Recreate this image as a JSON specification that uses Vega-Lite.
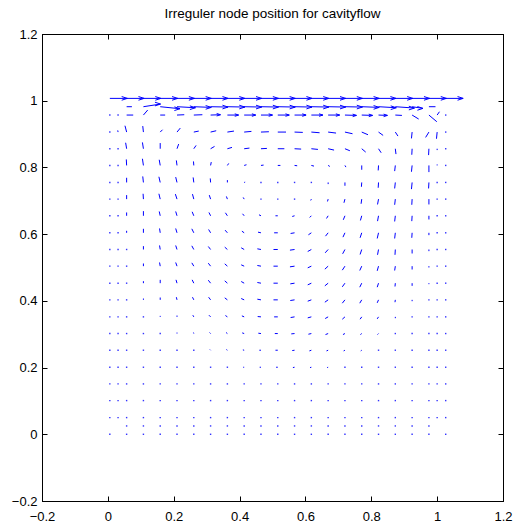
{
"$schema":"https://vega.github.io/schema/vega-lite/v6.json",
"width":461,"height":467,
"autosize":{"type":"none"},
"padding":{"left":42,"top":34,"right":29,"bottom":21},
"title":{"text":"Irreguler node position for cavityflow","font":"Liberation Sans","fontSize":13.5,"fontWeight":"normal","color":"black","anchor":"middle","offset":8},
"config":{"view":{"stroke":"black","strokeWidth":1},"axis":{"domainColor":"black","domainWidth":1,"tickColor":"black","tickWidth":1,"tickSize":-5,"labelColor":"black","labelFont":"Liberation Sans","labelFontSize":13,"grid":false,"title":null,"labelFlush":false,"labelOverlap":false}},
"datasets":{
"arrows":[
{"x":0.006,"y":1.007,"x2":0.059,"y2":1.007},{"x":0.057,"y":1.007,"x2":0.110,"y2":1.007},{"x":0.108,"y":1.007,"x2":0.161,"y2":1.007},{"x":0.159,"y":1.007,"x2":0.212,"y2":1.007},{"x":0.210,"y":1.007,"x2":0.263,"y2":1.007},{"x":0.261,"y":1.007,"x2":0.314,"y2":1.007},{"x":0.312,"y":1.007,"x2":0.365,"y2":1.007},{"x":0.363,"y":1.007,"x2":0.416,"y2":1.007},{"x":0.414,"y":1.007,"x2":0.467,"y2":1.007},{"x":0.465,"y":1.007,"x2":0.518,"y2":1.007},{"x":0.516,"y":1.007,"x2":0.569,"y2":1.007},{"x":0.567,"y":1.007,"x2":0.620,"y2":1.007},{"x":0.618,"y":1.007,"x2":0.671,"y2":1.007},{"x":0.669,"y":1.007,"x2":0.722,"y2":1.007},{"x":0.720,"y":1.007,"x2":0.773,"y2":1.007},{"x":0.771,"y":1.007,"x2":0.824,"y2":1.007},{"x":0.822,"y":1.007,"x2":0.875,"y2":1.007},{"x":0.873,"y":1.007,"x2":0.926,"y2":1.007},{"x":0.924,"y":1.007,"x2":0.977,"y2":1.007},{"x":0.975,"y":1.007,"x2":1.028,"y2":1.007},{"x":1.026,"y":1.007,"x2":1.079,"y2":1.007},
{"x":0.057,"y":0.982,"x2":0.073,"y2":0.982},{"x":0.108,"y":0.982,"x2":0.160,"y2":0.990},{"x":0.159,"y":0.982,"x2":0.219,"y2":0.976},{"x":0.210,"y":0.982,"x2":0.266,"y2":0.979},{"x":0.261,"y":0.982,"x2":0.314,"y2":0.980},{"x":0.312,"y":0.982,"x2":0.365,"y2":0.981},{"x":0.363,"y":0.982,"x2":0.416,"y2":0.981},{"x":0.414,"y":0.982,"x2":0.467,"y2":0.981},{"x":0.465,"y":0.982,"x2":0.518,"y2":0.981},{"x":0.516,"y":0.982,"x2":0.569,"y2":0.981},{"x":0.567,"y":0.982,"x2":0.620,"y2":0.981},{"x":0.618,"y":0.982,"x2":0.671,"y2":0.981},{"x":0.669,"y":0.982,"x2":0.722,"y2":0.981},{"x":0.720,"y":0.982,"x2":0.773,"y2":0.981},{"x":0.771,"y":0.982,"x2":0.824,"y2":0.980},{"x":0.822,"y":0.982,"x2":0.876,"y2":0.979},{"x":0.873,"y":0.982,"x2":0.931,"y2":0.978},{"x":0.924,"y":0.982,"x2":0.957,"y2":0.977},{"x":0.975,"y":0.982,"x2":0.995,"y2":0.982},
{"x":0.057,"y":0.957,"x2":0.077,"y2":0.957},{"x":0.108,"y":0.957,"x2":0.121,"y2":0.972},{"x":0.159,"y":0.957,"x2":0.174,"y2":0.957},{"x":0.210,"y":0.957,"x2":0.232,"y2":0.958},{"x":0.261,"y":0.957,"x2":0.287,"y2":0.958},{"x":0.312,"y":0.957,"x2":0.342,"y2":0.958},{"x":0.363,"y":0.957,"x2":0.397,"y2":0.957},{"x":0.414,"y":0.957,"x2":0.449,"y2":0.957},{"x":0.465,"y":0.957,"x2":0.500,"y2":0.957},{"x":0.516,"y":0.957,"x2":0.551,"y2":0.957},{"x":0.567,"y":0.957,"x2":0.602,"y2":0.957},{"x":0.618,"y":0.957,"x2":0.653,"y2":0.957},{"x":0.669,"y":0.957,"x2":0.704,"y2":0.957},{"x":0.720,"y":0.957,"x2":0.755,"y2":0.956},{"x":0.771,"y":0.957,"x2":0.804,"y2":0.956},{"x":0.822,"y":0.957,"x2":0.849,"y2":0.956},{"x":0.873,"y":0.957,"x2":0.893,"y2":0.956},{"x":0.924,"y":0.957,"x2":0.944,"y2":0.945},{"x":0.975,"y":0.957,"x2":0.999,"y2":0.937},{"x":1.000,"y":0.957,"x2":1.007,"y2":0.967},
{"x":0.031,"y":0.906,"x2":0.030,"y2":0.911},{"x":0.057,"y":0.906,"x2":0.052,"y2":0.925},{"x":0.108,"y":0.906,"x2":0.106,"y2":0.924},{"x":0.159,"y":0.906,"x2":0.166,"y2":0.913},{"x":0.210,"y":0.906,"x2":0.220,"y2":0.918},{"x":0.261,"y":0.906,"x2":0.276,"y2":0.909},{"x":0.312,"y":0.906,"x2":0.329,"y2":0.910},{"x":0.363,"y":0.906,"x2":0.383,"y2":0.909},{"x":0.414,"y":0.906,"x2":0.436,"y2":0.908},{"x":0.465,"y":0.906,"x2":0.489,"y2":0.907},{"x":0.516,"y":0.906,"x2":0.541,"y2":0.906},{"x":0.567,"y":0.906,"x2":0.592,"y2":0.905},{"x":0.618,"y":0.906,"x2":0.643,"y2":0.904},{"x":0.669,"y":0.906,"x2":0.693,"y2":0.903},{"x":0.720,"y":0.906,"x2":0.743,"y2":0.901},{"x":0.771,"y":0.906,"x2":0.790,"y2":0.898},{"x":0.822,"y":0.906,"x2":0.836,"y2":0.896},{"x":0.873,"y":0.906,"x2":0.881,"y2":0.894},{"x":0.924,"y":0.906,"x2":0.922,"y2":0.887},{"x":0.975,"y":0.906,"x2":0.965,"y2":0.890},{"x":1.000,"y":0.906,"x2":0.998,"y2":0.886},
{"x":0.057,"y":0.856,"x2":0.054,"y2":0.874},{"x":0.108,"y":0.856,"x2":0.105,"y2":0.875},{"x":0.159,"y":0.856,"x2":0.159,"y2":0.873},{"x":0.210,"y":0.856,"x2":0.215,"y2":0.870},{"x":0.261,"y":0.856,"x2":0.268,"y2":0.866},{"x":0.312,"y":0.856,"x2":0.324,"y2":0.863},{"x":0.363,"y":0.856,"x2":0.377,"y2":0.860},{"x":0.414,"y":0.856,"x2":0.430,"y2":0.858},{"x":0.465,"y":0.856,"x2":0.483,"y2":0.857},{"x":0.516,"y":0.856,"x2":0.536,"y2":0.856},{"x":0.567,"y":0.856,"x2":0.587,"y2":0.855},{"x":0.618,"y":0.856,"x2":0.638,"y2":0.854},{"x":0.669,"y":0.856,"x2":0.687,"y2":0.852},{"x":0.720,"y":0.856,"x2":0.735,"y2":0.850},{"x":0.771,"y":0.856,"x2":0.783,"y2":0.846},{"x":0.822,"y":0.856,"x2":0.830,"y2":0.844},{"x":0.873,"y":0.856,"x2":0.875,"y2":0.840},{"x":0.924,"y":0.856,"x2":0.923,"y2":0.838},{"x":0.975,"y":0.856,"x2":0.974,"y2":0.837},{"x":1.000,"y":0.856,"x2":1.000,"y2":0.852},
{"x":0.057,"y":0.806,"x2":0.056,"y2":0.824},{"x":0.108,"y":0.806,"x2":0.105,"y2":0.826},{"x":0.159,"y":0.806,"x2":0.156,"y2":0.823},{"x":0.210,"y":0.806,"x2":0.208,"y2":0.821},{"x":0.261,"y":0.806,"x2":0.260,"y2":0.818},{"x":0.312,"y":0.806,"x2":0.314,"y2":0.816},{"x":0.363,"y":0.806,"x2":0.367,"y2":0.812},{"x":0.414,"y":0.806,"x2":0.421,"y2":0.808},{"x":0.465,"y":0.806,"x2":0.473,"y2":0.807},{"x":0.516,"y":0.806,"x2":0.524,"y2":0.806},{"x":0.567,"y":0.806,"x2":0.575,"y2":0.805},{"x":0.618,"y":0.806,"x2":0.626,"y2":0.804},{"x":0.669,"y":0.806,"x2":0.674,"y2":0.803},{"x":0.720,"y":0.806,"x2":0.723,"y2":0.801},{"x":0.771,"y":0.806,"x2":0.771,"y2":0.793},{"x":0.822,"y":0.806,"x2":0.821,"y2":0.791},{"x":0.873,"y":0.806,"x2":0.871,"y2":0.789},{"x":0.924,"y":0.806,"x2":0.922,"y2":0.787},{"x":0.975,"y":0.806,"x2":0.975,"y2":0.786},{"x":1.000,"y":0.806,"x2":1.000,"y2":0.809},
{"x":0.057,"y":0.755,"x2":0.057,"y2":0.769},{"x":0.108,"y":0.755,"x2":0.106,"y2":0.773},{"x":0.159,"y":0.755,"x2":0.155,"y2":0.772},{"x":0.210,"y":0.755,"x2":0.206,"y2":0.771},{"x":0.261,"y":0.755,"x2":0.259,"y2":0.770},{"x":0.312,"y":0.755,"x2":0.311,"y2":0.767},{"x":0.363,"y":0.755,"x2":0.363,"y2":0.762},{"x":0.414,"y":0.755,"x2":0.417,"y2":0.756},{"x":0.669,"y":0.755,"x2":0.669,"y2":0.750},{"x":0.720,"y":0.755,"x2":0.720,"y2":0.745},{"x":0.771,"y":0.755,"x2":0.770,"y2":0.742},{"x":0.822,"y":0.755,"x2":0.821,"y2":0.739},{"x":0.873,"y":0.755,"x2":0.871,"y2":0.737},{"x":0.924,"y":0.755,"x2":0.922,"y2":0.735},{"x":0.975,"y":0.755,"x2":0.974,"y2":0.737},
{"x":0.057,"y":0.705,"x2":0.057,"y2":0.717},{"x":0.108,"y":0.705,"x2":0.107,"y2":0.721},{"x":0.159,"y":0.705,"x2":0.155,"y2":0.721},{"x":0.210,"y":0.705,"x2":0.205,"y2":0.720},{"x":0.261,"y":0.705,"x2":0.257,"y2":0.720},{"x":0.312,"y":0.705,"x2":0.308,"y2":0.717},{"x":0.363,"y":0.705,"x2":0.360,"y2":0.713},{"x":0.414,"y":0.705,"x2":0.411,"y2":0.710},{"x":0.618,"y":0.705,"x2":0.616,"y2":0.701},{"x":0.669,"y":0.705,"x2":0.667,"y2":0.698},{"x":0.720,"y":0.705,"x2":0.717,"y2":0.694},{"x":0.771,"y":0.705,"x2":0.769,"y2":0.691},{"x":0.822,"y":0.705,"x2":0.819,"y2":0.689},{"x":0.873,"y":0.705,"x2":0.871,"y2":0.688},{"x":0.924,"y":0.705,"x2":0.923,"y2":0.688},{"x":0.975,"y":0.705,"x2":0.975,"y2":0.689},
{"x":0.057,"y":0.655,"x2":0.057,"y2":0.665},{"x":0.108,"y":0.655,"x2":0.108,"y2":0.669},{"x":0.159,"y":0.655,"x2":0.156,"y2":0.668},{"x":0.210,"y":0.655,"x2":0.206,"y2":0.668},{"x":0.261,"y":0.655,"x2":0.256,"y2":0.667},{"x":0.312,"y":0.655,"x2":0.307,"y2":0.665},{"x":0.363,"y":0.655,"x2":0.357,"y2":0.664},{"x":0.414,"y":0.655,"x2":0.409,"y2":0.661},{"x":0.465,"y":0.655,"x2":0.459,"y2":0.658},{"x":0.516,"y":0.655,"x2":0.509,"y2":0.655},{"x":0.567,"y":0.655,"x2":0.560,"y2":0.653},{"x":0.618,"y":0.655,"x2":0.613,"y2":0.650},{"x":0.669,"y":0.655,"x2":0.664,"y2":0.647},{"x":0.720,"y":0.655,"x2":0.715,"y2":0.643},{"x":0.771,"y":0.655,"x2":0.767,"y2":0.641},{"x":0.822,"y":0.655,"x2":0.819,"y2":0.639},{"x":0.873,"y":0.655,"x2":0.871,"y2":0.638},{"x":0.924,"y":0.655,"x2":0.923,"y2":0.639},{"x":0.975,"y":0.655,"x2":0.975,"y2":0.644},
{"x":0.057,"y":0.604,"x2":0.057,"y2":0.610},{"x":0.108,"y":0.604,"x2":0.108,"y2":0.616},{"x":0.159,"y":0.604,"x2":0.157,"y2":0.617},{"x":0.210,"y":0.604,"x2":0.206,"y2":0.617},{"x":0.261,"y":0.604,"x2":0.255,"y2":0.616},{"x":0.312,"y":0.604,"x2":0.306,"y2":0.614},{"x":0.363,"y":0.604,"x2":0.356,"y2":0.612},{"x":0.414,"y":0.604,"x2":0.407,"y2":0.609},{"x":0.465,"y":0.604,"x2":0.456,"y2":0.606},{"x":0.516,"y":0.604,"x2":0.505,"y2":0.604},{"x":0.567,"y":0.604,"x2":0.555,"y2":0.602},{"x":0.618,"y":0.604,"x2":0.609,"y2":0.598},{"x":0.669,"y":0.604,"x2":0.661,"y2":0.594},{"x":0.720,"y":0.604,"x2":0.714,"y2":0.591},{"x":0.771,"y":0.604,"x2":0.766,"y2":0.589},{"x":0.822,"y":0.604,"x2":0.818,"y2":0.587},{"x":0.873,"y":0.604,"x2":0.871,"y2":0.587},{"x":0.924,"y":0.604,"x2":0.923,"y2":0.589},{"x":0.975,"y":0.604,"x2":0.975,"y2":0.597},
{"x":0.108,"y":0.554,"x2":0.108,"y2":0.564},{"x":0.159,"y":0.554,"x2":0.157,"y2":0.566},{"x":0.210,"y":0.554,"x2":0.206,"y2":0.566},{"x":0.261,"y":0.554,"x2":0.255,"y2":0.565},{"x":0.312,"y":0.554,"x2":0.305,"y2":0.563},{"x":0.363,"y":0.554,"x2":0.355,"y2":0.561},{"x":0.414,"y":0.554,"x2":0.405,"y2":0.559},{"x":0.465,"y":0.554,"x2":0.454,"y2":0.556},{"x":0.516,"y":0.554,"x2":0.503,"y2":0.554},{"x":0.567,"y":0.554,"x2":0.553,"y2":0.552},{"x":0.618,"y":0.554,"x2":0.607,"y2":0.548},{"x":0.669,"y":0.554,"x2":0.660,"y2":0.544},{"x":0.720,"y":0.554,"x2":0.713,"y2":0.541},{"x":0.771,"y":0.554,"x2":0.766,"y2":0.539},{"x":0.822,"y":0.554,"x2":0.819,"y2":0.538},{"x":0.873,"y":0.554,"x2":0.872,"y2":0.538},{"x":0.924,"y":0.554,"x2":0.924,"y2":0.542},{"x":0.975,"y":0.554,"x2":0.975,"y2":0.549},
{"x":0.108,"y":0.504,"x2":0.108,"y2":0.512},{"x":0.159,"y":0.504,"x2":0.157,"y2":0.515},{"x":0.210,"y":0.504,"x2":0.206,"y2":0.515},{"x":0.261,"y":0.504,"x2":0.255,"y2":0.514},{"x":0.312,"y":0.504,"x2":0.305,"y2":0.513},{"x":0.363,"y":0.504,"x2":0.355,"y2":0.511},{"x":0.414,"y":0.504,"x2":0.405,"y2":0.508},{"x":0.465,"y":0.504,"x2":0.454,"y2":0.506},{"x":0.516,"y":0.504,"x2":0.503,"y2":0.504},{"x":0.567,"y":0.504,"x2":0.553,"y2":0.502},{"x":0.618,"y":0.504,"x2":0.607,"y2":0.499},{"x":0.669,"y":0.504,"x2":0.659,"y2":0.495},{"x":0.720,"y":0.504,"x2":0.712,"y2":0.492},{"x":0.771,"y":0.504,"x2":0.765,"y2":0.491},{"x":0.822,"y":0.504,"x2":0.818,"y2":0.490},{"x":0.873,"y":0.504,"x2":0.871,"y2":0.491},{"x":0.924,"y":0.504,"x2":0.924,"y2":0.494},{"x":0.975,"y":0.504,"x2":0.975,"y2":0.500},
{"x":0.108,"y":0.453,"x2":0.108,"y2":0.459},{"x":0.159,"y":0.453,"x2":0.159,"y2":0.463},{"x":0.210,"y":0.453,"x2":0.207,"y2":0.463},{"x":0.261,"y":0.453,"x2":0.256,"y2":0.463},{"x":0.312,"y":0.453,"x2":0.305,"y2":0.462},{"x":0.363,"y":0.453,"x2":0.355,"y2":0.460},{"x":0.414,"y":0.453,"x2":0.405,"y2":0.458},{"x":0.465,"y":0.453,"x2":0.454,"y2":0.455},{"x":0.516,"y":0.453,"x2":0.503,"y2":0.453},{"x":0.567,"y":0.453,"x2":0.554,"y2":0.451},{"x":0.618,"y":0.453,"x2":0.607,"y2":0.448},{"x":0.669,"y":0.453,"x2":0.659,"y2":0.445},{"x":0.720,"y":0.453,"x2":0.712,"y2":0.442},{"x":0.771,"y":0.453,"x2":0.765,"y2":0.441},{"x":0.822,"y":0.453,"x2":0.818,"y2":0.441},{"x":0.873,"y":0.453,"x2":0.872,"y2":0.443},{"x":0.924,"y":0.453,"x2":0.924,"y2":0.445},{"x":0.975,"y":0.453,"x2":0.975,"y2":0.450},
{"x":0.108,"y":0.403,"x2":0.108,"y2":0.407},{"x":0.159,"y":0.403,"x2":0.159,"y2":0.410},{"x":0.210,"y":0.403,"x2":0.208,"y2":0.411},{"x":0.261,"y":0.403,"x2":0.257,"y2":0.411},{"x":0.312,"y":0.403,"x2":0.306,"y2":0.411},{"x":0.363,"y":0.403,"x2":0.355,"y2":0.409},{"x":0.414,"y":0.403,"x2":0.405,"y2":0.407},{"x":0.465,"y":0.403,"x2":0.454,"y2":0.405},{"x":0.516,"y":0.403,"x2":0.503,"y2":0.403},{"x":0.567,"y":0.403,"x2":0.554,"y2":0.401},{"x":0.618,"y":0.403,"x2":0.607,"y2":0.399},{"x":0.669,"y":0.403,"x2":0.659,"y2":0.396},{"x":0.720,"y":0.403,"x2":0.712,"y2":0.393},{"x":0.771,"y":0.403,"x2":0.765,"y2":0.393},{"x":0.822,"y":0.403,"x2":0.818,"y2":0.394},{"x":0.873,"y":0.403,"x2":0.872,"y2":0.396},{"x":0.924,"y":0.403,"x2":0.924,"y2":0.399},
{"x":0.159,"y":0.352,"x2":0.159,"y2":0.355},{"x":0.210,"y":0.352,"x2":0.210,"y2":0.356},{"x":0.261,"y":0.352,"x2":0.258,"y2":0.357},{"x":0.312,"y":0.352,"x2":0.307,"y2":0.357},{"x":0.363,"y":0.352,"x2":0.357,"y2":0.356},{"x":0.414,"y":0.352,"x2":0.407,"y2":0.355},{"x":0.465,"y":0.352,"x2":0.455,"y2":0.353},{"x":0.516,"y":0.352,"x2":0.505,"y2":0.352},{"x":0.567,"y":0.352,"x2":0.555,"y2":0.350},{"x":0.618,"y":0.352,"x2":0.607,"y2":0.349},{"x":0.669,"y":0.352,"x2":0.660,"y2":0.347},{"x":0.720,"y":0.352,"x2":0.712,"y2":0.345},{"x":0.771,"y":0.352,"x2":0.766,"y2":0.345},{"x":0.822,"y":0.352,"x2":0.818,"y2":0.346},{"x":0.873,"y":0.352,"x2":0.873,"y2":0.348},
{"x":0.210,"y":0.302,"x2":0.210,"y2":0.305},{"x":0.261,"y":0.302,"x2":0.260,"y2":0.305},{"x":0.312,"y":0.302,"x2":0.309,"y2":0.305},{"x":0.363,"y":0.302,"x2":0.359,"y2":0.305},{"x":0.414,"y":0.302,"x2":0.408,"y2":0.304},{"x":0.465,"y":0.302,"x2":0.457,"y2":0.303},{"x":0.516,"y":0.302,"x2":0.507,"y2":0.302},{"x":0.567,"y":0.302,"x2":0.557,"y2":0.301},{"x":0.618,"y":0.302,"x2":0.609,"y2":0.300},{"x":0.669,"y":0.302,"x2":0.661,"y2":0.299},{"x":0.720,"y":0.302,"x2":0.714,"y2":0.299},{"x":0.771,"y":0.302,"x2":0.767,"y2":0.299},{"x":0.822,"y":0.302,"x2":0.819,"y2":0.299},
{"x":0.312,"y":0.252,"x2":0.310,"y2":0.254},{"x":0.363,"y":0.252,"x2":0.360,"y2":0.254},{"x":0.414,"y":0.252,"x2":0.410,"y2":0.253},{"x":0.465,"y":0.252,"x2":0.460,"y2":0.252},{"x":0.516,"y":0.252,"x2":0.509,"y2":0.252},{"x":0.567,"y":0.252,"x2":0.560,"y2":0.251},{"x":0.618,"y":0.252,"x2":0.612,"y2":0.250},{"x":0.669,"y":0.252,"x2":0.664,"y2":0.250},{"x":0.720,"y":0.252,"x2":0.716,"y2":0.250},{"x":0.771,"y":0.252,"x2":0.768,"y2":0.250},
{"x":0.414,"y":0.201,"x2":0.411,"y2":0.201},{"x":0.465,"y":0.201,"x2":0.461,"y2":0.201},{"x":0.516,"y":0.201,"x2":0.511,"y2":0.201},{"x":0.567,"y":0.201,"x2":0.562,"y2":0.200},{"x":0.618,"y":0.201,"x2":0.614,"y2":0.200},{"x":0.669,"y":0.201,"x2":0.666,"y2":0.200}
],
"dots":[
{"x":0.006,"y":0.957},{"x":0.031,"y":0.957},{"x":1.026,"y":0.957},
{"x":0.006,"y":0.906},{"x":1.026,"y":0.906},
{"x":0.006,"y":0.856},{"x":0.031,"y":0.856},{"x":1.026,"y":0.856},
{"x":0.006,"y":0.806},{"x":0.031,"y":0.806},{"x":1.026,"y":0.806},
{"x":0.006,"y":0.755},{"x":0.031,"y":0.755},{"x":0.465,"y":0.755},{"x":0.516,"y":0.755},{"x":0.567,"y":0.755},{"x":0.618,"y":0.755},{"x":1.000,"y":0.755},{"x":1.026,"y":0.755},
{"x":0.006,"y":0.705},{"x":0.031,"y":0.705},{"x":0.465,"y":0.705},{"x":0.516,"y":0.705},{"x":0.567,"y":0.705},{"x":1.000,"y":0.705},{"x":1.026,"y":0.705},
{"x":0.006,"y":0.655},{"x":0.031,"y":0.655},{"x":1.000,"y":0.655},{"x":1.026,"y":0.655},
{"x":0.006,"y":0.604},{"x":0.031,"y":0.604},{"x":1.000,"y":0.604},{"x":1.026,"y":0.604},
{"x":0.006,"y":0.554},{"x":0.031,"y":0.554},{"x":0.057,"y":0.554},{"x":1.000,"y":0.554},{"x":1.026,"y":0.554},
{"x":0.006,"y":0.504},{"x":0.031,"y":0.504},{"x":0.057,"y":0.504},{"x":1.000,"y":0.504},{"x":1.026,"y":0.504},
{"x":0.006,"y":0.453},{"x":0.031,"y":0.453},{"x":0.057,"y":0.453},{"x":1.000,"y":0.453},{"x":1.026,"y":0.453},
{"x":0.006,"y":0.403},{"x":0.031,"y":0.403},{"x":0.057,"y":0.403},{"x":0.975,"y":0.403},{"x":1.000,"y":0.403},{"x":1.026,"y":0.403},
{"x":0.006,"y":0.352},{"x":0.031,"y":0.352},{"x":0.057,"y":0.352},{"x":0.108,"y":0.352},{"x":0.924,"y":0.352},{"x":0.975,"y":0.352},{"x":1.000,"y":0.352},{"x":1.026,"y":0.352},
{"x":0.006,"y":0.302},{"x":0.031,"y":0.302},{"x":0.057,"y":0.302},{"x":0.108,"y":0.302},{"x":0.159,"y":0.302},{"x":0.873,"y":0.302},{"x":0.924,"y":0.302},{"x":0.975,"y":0.302},{"x":1.000,"y":0.302},{"x":1.026,"y":0.302},
{"x":0.006,"y":0.252},{"x":0.031,"y":0.252},{"x":0.057,"y":0.252},{"x":0.108,"y":0.252},{"x":0.159,"y":0.252},{"x":0.210,"y":0.252},{"x":0.261,"y":0.252},{"x":0.822,"y":0.252},{"x":0.873,"y":0.252},{"x":0.924,"y":0.252},{"x":0.975,"y":0.252},{"x":1.000,"y":0.252},{"x":1.026,"y":0.252},
{"x":0.006,"y":0.201},{"x":0.031,"y":0.201},{"x":0.057,"y":0.201},{"x":0.108,"y":0.201},{"x":0.159,"y":0.201},{"x":0.210,"y":0.201},{"x":0.261,"y":0.201},{"x":0.312,"y":0.201},{"x":0.363,"y":0.201},{"x":0.720,"y":0.201},{"x":0.771,"y":0.201},{"x":0.822,"y":0.201},{"x":0.873,"y":0.201},{"x":0.924,"y":0.201},{"x":0.975,"y":0.201},{"x":1.000,"y":0.201},{"x":1.026,"y":0.201},
{"x":0.006,"y":0.151},{"x":0.031,"y":0.151},{"x":0.057,"y":0.151},{"x":0.108,"y":0.151},{"x":0.159,"y":0.151},{"x":0.210,"y":0.151},{"x":0.261,"y":0.151},{"x":0.312,"y":0.151},{"x":0.363,"y":0.151},{"x":0.414,"y":0.151},{"x":0.465,"y":0.151},{"x":0.516,"y":0.151},{"x":0.567,"y":0.151},{"x":0.618,"y":0.151},{"x":0.669,"y":0.151},{"x":0.720,"y":0.151},{"x":0.771,"y":0.151},{"x":0.822,"y":0.151},{"x":0.873,"y":0.151},{"x":0.924,"y":0.151},{"x":0.975,"y":0.151},{"x":1.000,"y":0.151},{"x":1.026,"y":0.151},
{"x":0.006,"y":0.101},{"x":0.031,"y":0.101},{"x":0.057,"y":0.101},{"x":0.108,"y":0.101},{"x":0.159,"y":0.101},{"x":0.210,"y":0.101},{"x":0.261,"y":0.101},{"x":0.312,"y":0.101},{"x":0.363,"y":0.101},{"x":0.414,"y":0.101},{"x":0.465,"y":0.101},{"x":0.516,"y":0.101},{"x":0.567,"y":0.101},{"x":0.618,"y":0.101},{"x":0.669,"y":0.101},{"x":0.720,"y":0.101},{"x":0.771,"y":0.101},{"x":0.822,"y":0.101},{"x":0.873,"y":0.101},{"x":0.924,"y":0.101},{"x":0.975,"y":0.101},{"x":1.000,"y":0.101},{"x":1.026,"y":0.101},
{"x":0.006,"y":0.050},{"x":0.031,"y":0.050},{"x":0.057,"y":0.050},{"x":0.108,"y":0.050},{"x":0.159,"y":0.050},{"x":0.210,"y":0.050},{"x":0.261,"y":0.050},{"x":0.312,"y":0.050},{"x":0.363,"y":0.050},{"x":0.414,"y":0.050},{"x":0.465,"y":0.050},{"x":0.516,"y":0.050},{"x":0.567,"y":0.050},{"x":0.618,"y":0.050},{"x":0.669,"y":0.050},{"x":0.720,"y":0.050},{"x":0.771,"y":0.050},{"x":0.822,"y":0.050},{"x":0.873,"y":0.050},{"x":0.924,"y":0.050},{"x":0.975,"y":0.050},{"x":1.000,"y":0.050},{"x":1.026,"y":0.050},
{"x":0.057,"y":0.025},{"x":0.108,"y":0.025},{"x":0.159,"y":0.025},{"x":0.210,"y":0.025},{"x":0.261,"y":0.025},{"x":0.312,"y":0.025},{"x":0.363,"y":0.025},{"x":0.414,"y":0.025},{"x":0.465,"y":0.025},{"x":0.516,"y":0.025},{"x":0.567,"y":0.025},{"x":0.618,"y":0.025},{"x":0.669,"y":0.025},{"x":0.720,"y":0.025},{"x":0.771,"y":0.025},{"x":0.822,"y":0.025},{"x":0.873,"y":0.025},{"x":0.924,"y":0.025},{"x":0.975,"y":0.025},
{"x":0.006,"y":0.0},{"x":0.057,"y":0.0},{"x":0.108,"y":0.0},{"x":0.159,"y":0.0},{"x":0.210,"y":0.0},{"x":0.261,"y":0.0},{"x":0.312,"y":0.0},{"x":0.363,"y":0.0},{"x":0.414,"y":0.0},{"x":0.465,"y":0.0},{"x":0.516,"y":0.0},{"x":0.567,"y":0.0},{"x":0.618,"y":0.0},{"x":0.669,"y":0.0},{"x":0.720,"y":0.0},{"x":0.771,"y":0.0},{"x":0.822,"y":0.0},{"x":0.873,"y":0.0},{"x":0.924,"y":0.0},{"x":0.975,"y":0.0},{"x":1.026,"y":0.0}
]},
"layer":[
{"data":{"name":"arrows"},"mark":{"type":"rule","color":"#0000ff","strokeWidth":1,"strokeCap":"butt"},
 "encoding":{
  "x":{"field":"x","type":"quantitative","scale":{"domain":[-0.2,1.2],"nice":false,"zero":false},"axis":{"orient":"bottom","values":[-0.2,0,0.2,0.4,0.6,0.8,1,1.2],"format":"~g","labelPadding":14}},
  "y":{"field":"y","type":"quantitative","scale":{"domain":[-0.2,1.2],"nice":false,"zero":false},"axis":{"orient":"left","values":[-0.2,0,0.2,0.4,0.6,0.8,1,1.2],"format":"~g","labelPadding":10}},
  "x2":{"field":"x2"},"y2":{"field":"y2"}}},
{"data":{"name":"dots"},"mark":{"type":"square","size":2,"color":"#0000ff","opacity":0.8},
 "encoding":{
  "x":{"field":"x","type":"quantitative","axis":{"orient":"top","values":[-0.2,0,0.2,0.4,0.6,0.8,1,1.2],"labels":false}},
  "y":{"field":"y","type":"quantitative","axis":{"orient":"right","values":[-0.2,0,0.2,0.4,0.6,0.8,1,1.2],"labels":false}}}},
{"data":{"name":"arrows"},"transform":[{"filter":"datum.y > 0.97 && datum.x2 - datum.x > 0.03"}],
 "mark":{"type":"point","shape":"M-1,-0.33L0,0L-1,0.33","filled":false,"stroke":"#0000ff","strokeWidth":1,"opacity":1,"size":125},
 "encoding":{"x":{"field":"x2","type":"quantitative","axis":null},"y":{"field":"y2","type":"quantitative","axis":null}}},
{"data":{"name":"arrows"},"transform":[{"filter":"datum.y > 0.95 && datum.y < 0.97 && datum.x2 - datum.x > 0.027"}],
 "mark":{"type":"point","shape":"M-1,-0.33L0,0L-1,0.33","filled":false,"stroke":"#0000ff","strokeWidth":1,"opacity":1,"size":58},
 "encoding":{"x":{"field":"x2","type":"quantitative","axis":null},"y":{"field":"y2","type":"quantitative","axis":null}}}
],
"resolve":{"axis":{"x":"independent","y":"independent"}}
}
